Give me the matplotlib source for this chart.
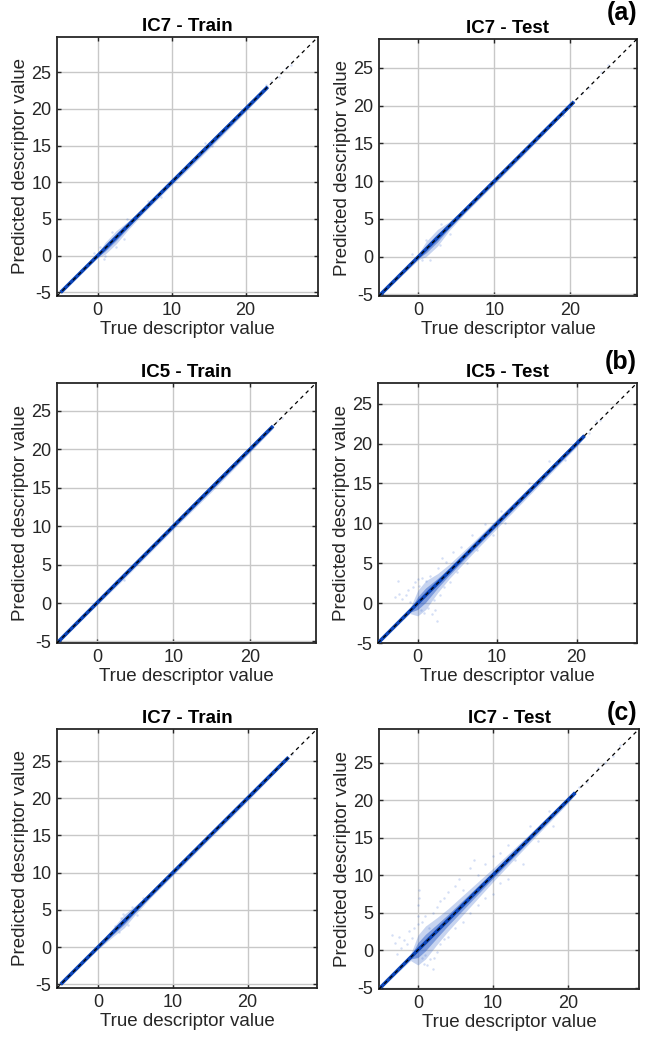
import matplotlib
matplotlib.use("Agg")
import matplotlib.pyplot as plt

plt.rcParams['font.family'] = ['Liberation Sans', 'DejaVu Sans']
plt.rcParams['axes.unicode_minus'] = False

# ---- panel definitions ----
titles = ["IC7 - Train", "IC7 - Test", "IC5 - Train", "IC5 - Test", "IC7 - Train", "IC7 - Test"]
tags = ["(a)", "(b)", "(c)"]

# axis limits (same range on x and y)
lims = [(-5.5, 29.8), (-5.2, 28.8), (-5.2, 28.6), (-5.0, 27.6), (-5.5, 29.3), (-5.2, 29.5)]

# extent of the dense diagonal core (true values)
core_start = [-5.0, -5.0, -5.0, -5.0, -5.0, -5.0]
core_end = [23.0, 20.5, 23.0, 21.0, 25.5, 21.0]

# residual spread of the point cloud around the diagonal
halo_x = [
    [-5, 0, 1, 2.5, 4, 6, 10, 14, 16, 20, 23],
    [-5, 0, 1, 2.5, 4, 6, 10, 14, 17, 20.5],
    [-5, 0, 3, 6, 10, 15, 20, 23],
    [-5, -1, 0, 1, 2.5, 4, 7, 10, 15, 20, 21],
    [-5, 0, 2, 3.5, 5, 7, 10, 15, 20, 25.5],
    [-5, -1, 0, 1, 2.5, 4, 7, 10, 15, 20, 21],
]
halo_spread = [
    [0.15, 0.3, 0.8, 0.9, 0.6, 0.4, 0.4, 0.5, 0.5, 0.4, 0.3],
    [0.15, 0.4, 1.0, 1.1, 0.6, 0.4, 0.4, 0.4, 0.3, 0.2],
    [0.15, 0.3, 0.4, 0.4, 0.4, 0.5, 0.4, 0.3],
    [0.15, 0.3, 1.6, 1.8, 1.2, 0.9, 0.7, 0.6, 0.5, 0.4, 0.2],
    [0.15, 0.3, 0.6, 0.9, 0.6, 0.4, 0.4, 0.4, 0.4, 0.2],
    [0.15, 0.4, 2.0, 2.2, 1.8, 1.5, 1.2, 0.9, 0.6, 0.4, 0.2],
]

# scattered points away from the core (true, predicted)
pts_true = [
    [-0.5, 0.3, 1.0, 0.8, 2.0, 3.5, 4.0, 2.5, 23.5, 24.5, 25.5, 26.2, 22.8, 6.8, 8.5, 14.5, 15.5],
    [-0.8, 0.5, 1.5, 3.0, 2.8, 4.2, 1.0, 21.5, 22.5, 24.0, 25.0, 19.0, 17.5, 13.5],
    [23.5, 24.2, 3.5, 2.5],
    [-2.8, -2.4, -2.0, -1.5, -1.2, -1.0, -0.6, -0.3, 0.0, 0.2, 0.4, 0.6, 0.8, 1.0, 1.3, 1.5,
     1.8, 2.0, 2.2, 2.4, 2.6, 2.8, 3.0, 3.3, 3.6, 4.0, 4.5, 5.0, 5.5, 6.2, 6.8, 7.5, 8.5,
     9.5, 10.5, 11.0, -2.5, 16.5, 20.0, 21.5, 22.5, 23.0, 14.0, 18.5],
    [2.2, 2.8, 3.3, 4.0, 4.6, 5.2, 3.0, 6.0, 26.0, 25.0],
    [0.0, 0.0, 0.1, 0.05, 0.1,
     -3.5, -3.0, -2.5, -2.2, -1.8, -1.5, -1.2, -0.8, -0.5, -0.3, -2.8,
     0.5, 0.8, 1.2, 1.6, 2.0, 2.2, 2.6, 1.0, 3.0, 3.5, 4.0,
     0.6, 1.0, 1.5, 2.0, 2.5, 3.0, 3.5, 4.0, 5.0, 5.5, 6.0, 7.0, 7.5, 8.0,
     5.0, 6.0, 7.0, 8.0, 9.0, 10.0, 11.0, 12.0, 13.0, 14.0,
     9.0, 10.0, 11.0, 12.0, 15.0, 16.0, 17.5, 18.0,
     21.5, 22.5, 24.0, 25.0, 26.0, 27.0],
]
pts_pred = [
    [0.3, 1.2, 0.0, -0.4, 3.2, 2.3, 5.0, 1.2, 23.8, 24.3, 25.6, 26.0, 23.2, 7.5, 8.0, 15.3, 14.9],
    [0.4, -0.5, -0.4, 4.3, 1.6, 3.0, 2.2, 21.6, 22.3, 24.5, 25.4, 18.8, 17.6, 13.9],
    [23.6, 24.0, 3.0, 2.8],
    [0.8, 1.1, 0.5, 1.0, 1.6, 0.2, 2.0, 2.6, 3.0, 2.2, -0.8, 3.2, -1.2, 2.8, -0.6, 3.4,
     -1.4, 0.4, -0.8, -2.3, 4.4, 1.0, 5.6, 2.0, 5.2, 2.6, 6.4, 3.9, 7.0, 5.0, 8.6, 6.6, 9.9,
     8.6, 11.6, 10.0, 2.8, 17.8, 20.5, 21.3, 22.8, 23.0, 15.0, 18.0],
    [2.8, 2.0, 4.4, 3.0, 5.4, 4.3, 3.9, 6.6, 26.0, 25.2],
    [4.5, 6.0, 8.0, 3.5, 7.0,
     2.0, 1.0, 1.8, 0.3, 1.4, 0.8, 2.5, 1.6, 3.0, -0.8, -0.5,
     -1.0, -1.8, -2.0, -1.2, -2.5, -1.0, -0.2, -0.6, 0.8, 1.5, 1.8,
     3.8, 4.5, 3.0, 5.0, 5.8, 6.5, 7.0, 7.8, 8.5, 9.5, 8.0, 11.0, 12.0, 10.0,
     3.0, 3.8, 5.0, 6.0, 7.0, 7.5, 9.0, 9.5, 12.0, 11.5,
     11.5, 12.5, 13.0, 14.0, 16.5, 14.5, 18.5, 16.5,
     21.8, 22.4, 24.3, 25.0, 25.9, 27.4],
]

x_ticks = [0, 10, 20]
y_ticks = [-5, 0, 5, 10, 15, 20, 25]

# ---- layout (pixel boxes of each axes, pixel top of each row tag) ----
W, H = 653, 1041
boxes = [(57, 37, 318, 296), (379, 39, 637, 296),
         (57, 383, 316, 643), (378, 383, 637, 643),
         (57, 729, 317, 988), (379, 729, 639, 989)]
tag_top = [1, 350, 701]

fig = plt.figure(figsize=(W / 100, H / 100), dpi=100)

core_color = '#0c45b8'
halo_color = '#2356c4'
pt_color = '#3a6ad2'

for i in range(6):
    x0, y0, x1, y1 = boxes[i]
    ax = fig.add_axes([x0 / W, 1 - y1 / H, (x1 - x0) / W, (y1 - y0) / H])
    lo, hi = lims[i]

    hx = halo_x[i]
    hs = halo_spread[i]
    # faint outer cloud and a denser inner layer
    ax.fill_between(hx, [x - s for x, s in zip(hx, hs)], [x + s for x, s in zip(hx, hs)],
                    color=halo_color, alpha=0.25, lw=0, zorder=2)
    ax.fill_between(hx, [x - s / 2 for x, s in zip(hx, hs)], [x + s / 2 for x, s in zip(hx, hs)],
                    color=halo_color, alpha=0.45, lw=0, zorder=2)
    ax.scatter(pts_true[i], pts_pred[i], s=3, color=pt_color, alpha=0.22, lw=0, zorder=2)
    ax.plot([core_start[i], core_end[i]], [core_start[i], core_end[i]],
            color=core_color, lw=2.6, solid_capstyle='butt', zorder=3)
    ax.plot([lo, hi], [lo, hi], color='black', lw=0.9, ls=(0, (3, 3)), zorder=4)

    ax.set_xlim(lo, hi)
    ax.set_ylim(lo, hi)
    ax.set_xticks(x_ticks)
    ax.set_yticks(y_ticks)
    ax.grid(True, color='#c8c8c8', lw=1.0, zorder=0)
    ax.set_axisbelow(True)
    ax.tick_params(direction='in', length=3, width=1, labelsize=13, colors='#262626',
                   top=True, right=True, pad=4)
    for sp in ax.spines.values():
        sp.set_color('#262626')
        sp.set_linewidth(1.3)

    ax.set_title(titles[i], fontsize=13.5, fontweight='bold', pad=4)
    ax.set_xlabel('True descriptor value', fontsize=13.5, color='#262626', labelpad=2)
    ax.set_ylabel('Predicted descriptor value', fontsize=13.5, color='#262626', labelpad=2)

    if i % 2 == 1:
        fig.text(637 / W, 1 - tag_top[i // 2] / H, tags[i // 2], fontsize=18,
                 fontweight='bold', ha='right', va='top')

fig.savefig('out.png', dpi=100)
